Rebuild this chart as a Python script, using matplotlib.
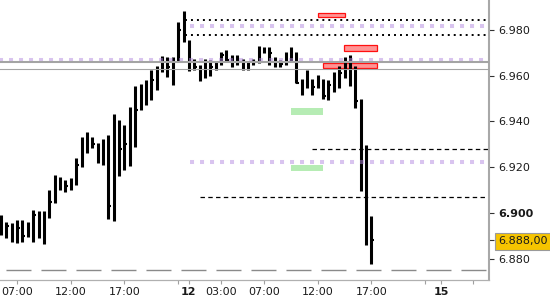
import matplotlib
matplotlib.use("Agg")
import matplotlib.pyplot as plt
from matplotlib.patches import Rectangle

plt.rcParams['lines.scale_dashes'] = False
plt.rcParams['font.family'] = 'DejaVu Sans'

# half-hour HLC bars
highs = [6.8991, 6.8961, 6.8957, 6.8970, 6.8970, 6.8961, 6.9013, 6.9009, 6.9009, 6.9101,
         6.9166, 6.9158, 6.9144, 6.9153, 6.9241, 6.9332, 6.9354, 6.9332, 6.9306, 6.9324,
         6.9341, 6.9433, 6.9407, 6.9385, 6.9464, 6.9555, 6.9564, 6.9581, 6.9625, 6.9643,
         6.9686, 6.9682, 6.9682, 6.9835, 6.9883, 6.9756, 6.9673, 6.9647, 6.9673, 6.9669,
         6.9660, 6.9704, 6.9713, 6.9691, 6.9691, 6.9673, 6.9660, 6.9673, 6.9730, 6.9726,
         6.9726, 6.9682, 6.9669, 6.9704, 6.9726, 6.9704, 6.9586, 6.9625, 6.9586, 6.9603,
         6.9586, 6.9581, 6.9616, 6.9643, 6.9682, 6.9691, 6.9643, 6.9498, 6.9297, 6.8987]
lows = [6.8904, 6.8891, 6.8874, 6.8869, 6.8874, 6.8896, 6.8874, 6.8891, 6.8865, 6.8978,
        6.9044, 6.9101, 6.9092, 6.9101, 6.9123, 6.9201, 6.9262, 6.9284, 6.9219, 6.9210,
        6.8974, 6.8965, 6.9162, 6.9188, 6.9206, 6.9289, 6.9450, 6.9472, 6.9494, 6.9538,
        6.9616, 6.9595, 6.9560, 6.9660, 6.9748, 6.9621, 6.9625, 6.9577, 6.9590, 6.9599,
        6.9625, 6.9647, 6.9660, 6.9638, 6.9647, 6.9625, 6.9625, 6.9647, 6.9656, 6.9699,
        6.9647, 6.9638, 6.9638, 6.9647, 6.9660, 6.9568, 6.9516, 6.9547, 6.9516, 6.9547,
        6.9498, 6.9494, 6.9529, 6.9547, 6.9590, 6.9555, 6.9459, 6.9096, 6.8860, 6.8777]
closes = [6.8955, 6.8945, 6.8880, 6.8935, 6.8900, 6.8930, 6.8990, 6.8900, 6.8885, 6.9050,
          6.9120, 6.9110, 6.9120, 6.9115, 6.9210, 6.9270, 6.9300, 6.9300, 6.9240, 6.9300,
          6.9030, 6.9400, 6.9280, 6.9300, 6.9400, 6.9450, 6.9530, 6.9500, 6.9580, 6.9610,
          6.9670, 6.9640, 6.9600, 6.9800, 6.9780, 6.9630, 6.9640, 6.9620, 6.9640, 6.9640,
          6.9650, 6.9690, 6.9670, 6.9650, 6.9660, 6.9640, 6.9645, 6.9660, 6.9710, 6.9705,
          6.9700, 6.9650, 6.9650, 6.9690, 6.9680, 6.9570, 6.9560, 6.9560, 6.9550, 6.9560,
          6.9510, 6.9560, 6.9570, 6.9610, 6.9650, 6.9600, 6.9490, 6.9100, 6.8900, 6.8880]
idx = list(range(len(highs)))

tick_pos = [3, 13, 23, 35, 41, 49, 59, 69, 82]
tick_labels = ['07:00', '12:00', '17:00', '12', '03:00', '07:00', '12:00', '17:00', '15']
minor_pos = [33, 79, 88]

price_ticks = [6.88, 6.90, 6.92, 6.94, 6.96, 6.98]
last_price = 6.888

# levels: (start index, price)
dotted_levels = [(34.3, 6.9844), (34.3, 6.9779)]
purple_levels = [(35.2, 6.9819), (-1, 6.9669), (35.2, 6.9224)]
dashed_levels = [(57.9, 6.9278), (37.1, 6.9068)]
gray_levels = [(6.9660, 1.5), (6.9629, 0.8)]
floor_level = 6.8751

red_zones = [(59.1, 64.1, 6.9856, 6.9876), (63.9, 70.1, 6.9709, 6.9734), (60.0, 70.1, 6.9635, 6.9657)]
green_zones = [(54.0, 60.0, 6.9428, 6.9460), (54.0, 60.0, 6.9185, 6.9210)]

x_min, x_max = -0.19, 90.9

fig = plt.figure(figsize=(5.5, 3), dpi=100)
ax = fig.add_axes([0, 20 / 300, 489 / 550, 280 / 300])

# zones
for x0, x1, y0, y1 in red_zones:
    ax.add_patch(Rectangle((x0, y0), x1 - x0, y1 - y0, fc='#ff9494', ec='#ff1010', lw=0.9, zorder=1))
for x0, x1, y0, y1 in green_zones:
    ax.add_patch(Rectangle((x0, y0), x1 - x0, y1 - y0, fc='#b6ecb4', ec='none', zorder=1))

# gray floor line
ax.plot([x_min, x_max], [floor_level, floor_level], color='#8a8a8a', lw=1.0,
        linestyle=(20.9, (18, 7.2)), dash_capstyle='butt', zorder=1)

for x0, y in dotted_levels:
    ax.plot([x0, x_max], [y, y], color='black', lw=1.4, linestyle=(0, (1.4, 2.9)), zorder=2)
for x0, y in dashed_levels:
    ax.plot([x0, x_max], [y, y], color='black', lw=0.9, linestyle=(0, (3.2, 2.4)), zorder=2)

# bars
ax.vlines(idx, lows, highs, color='black', lw=2.2, zorder=3)
ax.hlines(closes, idx, [i + 0.45 for i in idx], color='black', lw=1.5, zorder=3)

for x0, y in purple_levels:
    ax.plot([x0, x_max], [y, y], color='#b48be0', alpha=0.5, lw=2.9,
            linestyle=(0, (2.9, 4.3)), dash_capstyle='butt', zorder=4)
for y, lw in gray_levels:
    ax.plot([x_min, x_max], [y, y], color='#a4a4a4', lw=lw, zorder=4)

ax.set_xlim(x_min, x_max)
ax.set_ylim(6.8707, 6.9931)

for s in ['left', 'top']:
    ax.spines[s].set_visible(False)
ax.spines['right'].set_color('#a8a8a8')
ax.spines['right'].set_linewidth(1.5)
ax.spines['bottom'].set_color('#b0b0b0')
ax.spines['bottom'].set_linewidth(0.9)

ax.yaxis.tick_right()
ax.set_yticks(price_ticks + [last_price])
ax.set_yticklabels(['%.3f' % p for p in price_ticks] + ['6.888,00'])
ax.tick_params(axis='y', direction='out', length=3.6, width=0.8, color='#333333',
               pad=3, labelsize=8, labelcolor='#1a1a1a')
for lab in ax.get_yticklabels():
    if lab.get_text() == '6.900':
        lab.set_fontweight('bold')
    if lab.get_text() == '6.888,00':
        lab.set_bbox(dict(boxstyle='square,pad=0.3', fc='#f6c400', ec='#9a9a9a', lw=0.8))

ax.set_xticks(tick_pos)
ax.set_xticklabels(tick_labels)
ax.set_xticks(minor_pos, minor=True)
ax.tick_params(axis='x', which='both', direction='out', length=3, width=0.8, color='#a0a0a0',
               pad=2, labelsize=8, labelcolor='#1a1a1a')
for lab in ax.get_xticklabels():
    if lab.get_text() in ('12', '15'):
        lab.set_fontweight('bold')

fig.savefig('out.png', dpi=100)
